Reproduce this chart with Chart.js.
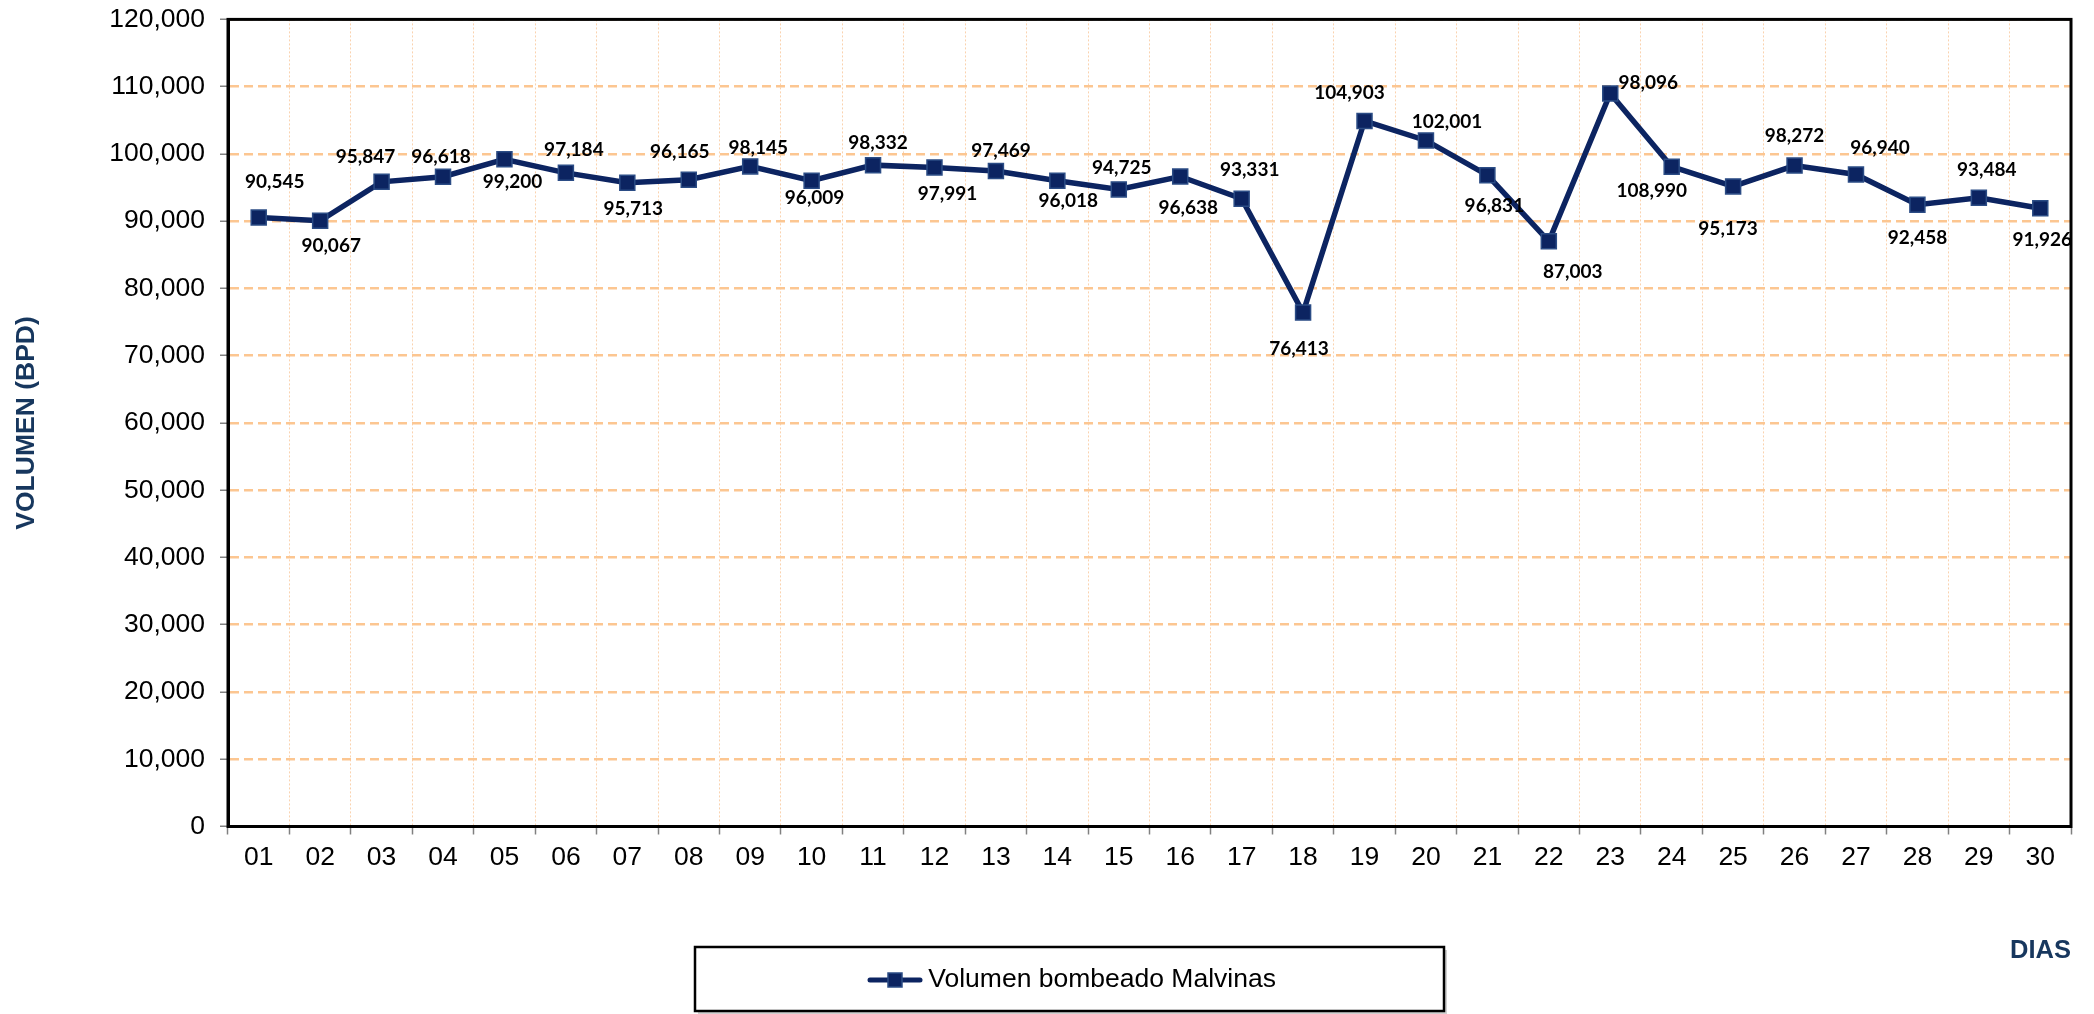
<!DOCTYPE html>
<html>
<head>
<meta charset="utf-8">
<script src="https://cdn.jsdelivr.net/npm/chart.js@4.4.1/dist/chart.umd.min.js"></script>
<style>
html,body{margin:0;padding:0;background:#fff;}
canvas{display:block;}
</style>
</head>
<body>
<canvas id="c" width="2094" height="1014"></canvas>
<script>
// ---- data ----
const days = ['01','02','03','04','05','06','07','08','09','10','11','12','13','14','15','16','17','18','19','20','21','22','23','24','25','26','27','28','29','30'];
const volumes = [90545, 90067, 95847, 96618, 99200, 97184, 95713, 96165, 98145, 96009, 98332, 97991, 97469, 96018, 94725, 96638, 93331, 76413, 104903, 102001, 96831, 87003, 108990, 98096, 95173, 98272, 96940, 92458, 93484, 91926];
// label texts exactly as printed in the source chart (labels of day 23/24 appear swapped there)
const pointLabels = ['90,545','90,067','95,847','96,618','99,200','97,184','95,713','96,165','98,145','96,009','98,332','97,991','97,469','96,018','94,725','96,638','93,331','76,413','104,903','102,001','96,831','87,003','98,096','108,990','95,173','98,272','96,940','92,458','93,484','91,926'];
const seriesName = 'Volumen bombeado Malvinas';
const yTitle = 'VOLUMEN (BPD)';
const xTitle = 'DIAS';

// ---- label placement (offset from each point, px) ----
const labelOffsets = [
  [16,-36],[11,25],[-16,-25],[-2,-20],[8,23],[8,-23],[6,26],[-9,-28],[8,-19],[3,17],
  [5,-22],[13,26],[5,-20],[11,20],[3,-22],[8,31],[8,-29],[-4,36],[-15,-28],[21,-19],
  [7,31],[24,31],[38,-11],[-20,24],[-5,42],[0,-30],[24,-27],[0,33],[8,-28],[2,32]
];

// ---- styles ----
const FONT = '"Liberation Sans", Arial, sans-serif';
const lineColor = '#0C2461';
const markerBorder = '#2B4C85';
const titleColor = '#17375E';
Chart.defaults.font.family = FONT;

// legend marker: line with square
const mk = document.createElement('canvas');
mk.width = 56; mk.height = 18;
(function(){
  const m = mk.getContext('2d');
  m.strokeStyle = lineColor; m.lineWidth = 5; m.lineCap = 'round';
  m.beginPath(); m.moveTo(3, 9); m.lineTo(53, 9); m.stroke();
  m.fillStyle = lineColor; m.fillRect(21, 2, 14, 14);
  m.strokeStyle = markerBorder; m.lineWidth = 1.5; m.strokeRect(21, 2, 14, 14);
})();

const pointLabelPlugin = {
  id: 'pointLabelPlugin',
  afterDatasetsDraw(chart) {
    const meta = chart.getDatasetMeta(0);
    const ctx = chart.ctx;
    ctx.save();
    ctx.font = 'bold 19px Lato, "Liberation Sans", sans-serif';
    ctx.fillStyle = '#000';
    ctx.textAlign = 'center';
    ctx.textBaseline = 'middle';
    meta.data.forEach((pt, i) => {
      const off = labelOffsets[i];
      ctx.fillText(pointLabels[i], pt.x + off[0], pt.y + off[1]);
    });
    ctx.restore();
  }
};

const framePlugin = {
  id: 'framePlugin',
  afterLayout(chart) {
    const lg = chart.legend;
    if (lg) {
      lg.left = 865; lg.right = 1450; lg.top = 947; lg.bottom = 1013;
      lg.width = lg.right - lg.left; lg.height = lg.bottom - lg.top;
    }
  },
  beforeDraw(chart) {
    const ctx = chart.ctx;
    ctx.save();
    ctx.fillStyle = '#fff';
    ctx.fillRect(0, 0, chart.width, chart.height);
    // legend frame
    ctx.fillStyle = 'rgba(0,0,0,0.18)';
    ctx.fillRect(698, 950, 749, 64);
    ctx.fillStyle = '#fff';
    ctx.fillRect(695, 947, 749, 64);
    ctx.strokeStyle = '#000';
    ctx.lineWidth = 2.5;
    ctx.strokeRect(695, 947, 749, 64);
    ctx.restore();
  },
  beforeDatasetsDraw(chart) {
    const a = chart.chartArea;
    const ctx = chart.ctx;
    ctx.save();
    ctx.strokeStyle = '#000';
    ctx.lineWidth = 3;
    ctx.strokeRect(a.left, a.top, a.right - a.left, a.bottom - a.top);
    ctx.restore();
  }
};

new Chart(document.getElementById('c'), {
  type: 'line',
  data: {
    labels: days,
    datasets: [{
      label: seriesName,
      data: volumes,
      borderColor: lineColor,
      backgroundColor: lineColor,
      borderWidth: 5.5,
      tension: 0,
      pointStyle: 'rect',
      pointRadius: 10.6,
      pointBackgroundColor: lineColor,
      pointBorderColor: markerBorder,
      pointBorderWidth: 1.5,
      clip: false
    }]
  },
  options: {
    responsive: false,
    devicePixelRatio: 1,
    animation: false,
    layout: { padding: { left: 0, top: 19.4, right: 23, bottom: 0 } },
    plugins: {
      tooltip: { enabled: false },
      legend: {
        position: 'chartArea',
        labels: {
          usePointStyle: true,
          pointStyle: mk,
          pointStyleWidth: 40,
          padding: 10,
          color: '#000',
          font: { size: 26.5, family: FONT }
        }
      }
    },
    scales: {
      x: {
        type: 'category',
        offset: true,
        grid: { offset: true, color: '#FAD2AE', lineWidth: 1, tickColor: '#808080', tickLength: 8, tickWidth: 1.5, tickBorderDash: [] },
        border: { display: true, color: '#000', width: 3, dash: [2, 2] },
        ticks: { color: '#000', font: { size: 26.5 }, padding: 7.5, maxRotation: 0, autoSkip: false },
        title: { display: true, text: xTitle, align: 'end', color: titleColor, font: { size: 25.5, weight: 'bold' }, padding: { top: 0, bottom: 47.7 } },
        afterFit(s) { s.height = 187.5; }
      },
      y: {
        min: 0,
        max: 120000,
        ticks: { stepSize: 10000, color: '#000', font: { size: 26.5 }, padding: 15, callback: (v) => Number(v).toLocaleString('en-US') },
        grid: { color: '#FCC691', lineWidth: 2.5, tickColor: '#808080', tickLength: 8, tickWidth: 1.5, tickBorderDash: [] },
        border: { display: true, color: '#000', width: 3, dash: [9, 5] },
        title: { display: true, text: yTitle, color: titleColor, font: { size: 26.5, weight: 'bold' }, padding: { top: 10.5, bottom: 0 } },
        afterFit(s) { s.width = 228; s.paddingTop = 16; s.paddingBottom = 16; }
      }
    }
  },
  plugins: [framePlugin, pointLabelPlugin]
});
</script>
</body>
</html>
